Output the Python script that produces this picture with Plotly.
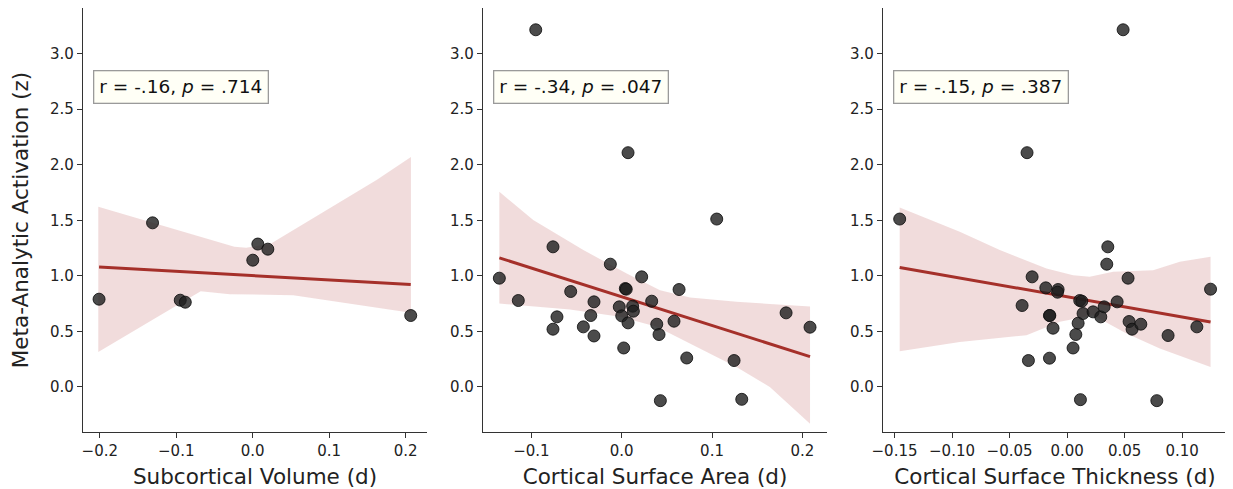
import numpy as np
import plotly.graph_objects as go

# ---------------- data ----------------
y_title = "Meta-Analytic Activation (z)"
x_titles = ["Subcortical Volume (d)", "Cortical Surface Area (d)", "Cortical Surface Thickness (d)"]
stat_labels = ["r = -.16, <i>p</i> = .714", "r = -.34, <i>p</i> = .047", "r = -.15, <i>p</i> = .387"]

sv_x = [-0.201, -0.131, -0.0948, -0.0882, 0.0001, 0.0067, 0.0198, 0.2067]
sv_y = [0.790, 1.477, 0.781, 0.763, 1.141, 1.286, 1.240, 0.643]

sa_x = [-0.0952, 0.0070, 0.1052, -0.1355, -0.1145, -0.0761, -0.0761, -0.0717, -0.0565, -0.0425,
        -0.0343, -0.0307, -0.0307, -0.0126, -0.0027, 0.0000, 0.0022, 0.0040, 0.0050, 0.0070,
        0.0121, 0.0129, 0.0221, 0.0332, 0.0388, 0.0413, 0.0428, 0.0579, 0.0635, 0.0720,
        0.1244, 0.1329, 0.1820, 0.2085]
sa_y = [3.214, 2.108, 1.511, 0.979, 0.778, 1.261, 0.520, 0.631, 0.859, 0.541,
        0.643, 0.766, 0.459, 1.105, 0.721, 0.640, 0.351, 0.886, 0.880, 0.577,
        0.727, 0.682, 0.991, 0.772, 0.565, 0.472, -0.123, 0.592, 0.877, 0.261,
        0.238, -0.111, 0.667, 0.538]

th_x = [0.0487, -0.0348, -0.1455, -0.0304, -0.0391, -0.0336, -0.0185, -0.0153, -0.0150, -0.0153,
        -0.0122, -0.0078, -0.0083, 0.0052, 0.0076, 0.0096, 0.0110, 0.0128, 0.0116, 0.0139,
        0.0226, 0.0293, 0.0322, 0.0345, 0.0354, 0.0435, 0.0530, 0.0539, 0.0565, 0.0641,
        0.0780, 0.0878, 0.1128, 0.1247]
th_y = [3.214, 2.108, 1.511, 0.991, 0.733, 0.238, 0.892, 0.643, 0.643, 0.259,
        0.529, 0.877, 0.853, 0.351, 0.472, 0.574, 0.778, 0.772, -0.114, 0.661,
        0.676, 0.631, 0.721, 1.105, 1.261, 0.766, 0.979, 0.589, 0.520, 0.565,
        -0.123, 0.463, 0.541, 0.880]

# confidence bands
sv_up_x = [-0.202, -0.024, -0.0085, 0.024, 0.162, 0.207]
sv_up_y = [1.622, 1.261, 1.252, 1.292, 1.862, 2.07]
sv_lo_x = [-0.202, -0.068, -0.030, 0.053, 0.153, 0.207]
sv_lo_y = [0.315, 0.862, 0.835, 0.826, 0.721, 0.667]

sa_up_x = [-0.1355, -0.098, -0.0425, 0.0055, 0.0424, 0.0756, 0.127, 0.2085]
sa_up_y = [1.757, 1.502, 1.232, 1.021, 0.871, 0.805, 0.766, 0.725]
sa_lo_x = [-0.1355, -0.0573, -0.0019, 0.0388, 0.083, 0.127, 0.164, 0.2085]
sa_lo_y = [0.751, 0.697, 0.631, 0.541, 0.360, 0.180, 0.0, -0.33]

th_up_x = [-0.1455, -0.0933, -0.0585, -0.0179, 0.0052, 0.0197, 0.04, 0.0748, 0.098, 0.1247]
th_up_y = [1.616, 1.397, 1.232, 1.066, 1.006, 0.991, 1.036, 1.051, 1.126, 1.171]
th_lo_x = [-0.1455, -0.0933, -0.0353, -0.0063, 0.0226, 0.0517, 0.0806, 0.1247]
th_lo_y = [0.322, 0.405, 0.466, 0.586, 0.646, 0.481, 0.346, 0.180]

x_ranges = [[-0.222, 0.228], [-0.1536, 0.2273], [-0.160, 0.139]]
x_dticks = [0.1, 0.1, 0.05]
x_formats = [".1f", ".1f", ".2f"]
y_range = [-0.405, 3.41]
y_ticks = [0.0, 0.5, 1.0, 1.5, 2.0, 2.5, 3.0]

# ---------------- figure ----------------
# the page body adds an 8px offset, so the figure is 8px smaller and shifted
OFF = 8
W, H = 1233 - OFF, 489 - OFF
domains_px = [(83 - OFF, 427 - OFF), (483 - OFF, 827 - OFF), (883 - OFF, 1227 - OFF)]
top_px, bot_px = 8 - OFF, 432 - OFF
y_dom = [1 - bot_px / H, 1 - top_px / H]

line_col = "#a5302a"
band_col = "rgba(180,60,60,0.18)"
font_fam = "DejaVu Sans"

panels = [
    (sv_x, sv_y, sv_up_x, sv_up_y, sv_lo_x, sv_lo_y),
    (sa_x, sa_y, sa_up_x, sa_up_y, sa_lo_x, sa_lo_y),
    (th_x, th_y, th_up_x, th_up_y, th_lo_x, th_lo_y),
]

fig = go.Figure()
for i, (px, py, ux, uy, lx, ly) in enumerate(panels):
    xa = "x" if i == 0 else f"x{i+1}"
    ya = "y" if i == 0 else f"y{i+1}"
    fig.add_trace(go.Scatter(
        x=list(ux) + list(lx)[::-1], y=list(uy) + list(ly)[::-1],
        fill="toself", fillcolor=band_col, line=dict(width=0), mode="lines",
        xaxis=xa, yaxis=ya, showlegend=False, hoverinfo="skip"))
    xs = np.array(px, dtype=float)
    ys = np.array(py, dtype=float)
    slope, icpt = np.polyfit(xs, ys, 1)
    lx_ = np.array([xs.min(), xs.max()])
    fig.add_trace(go.Scatter(
        x=lx_, y=slope * lx_ + icpt, mode="lines",
        line=dict(color=line_col, width=3), xaxis=xa, yaxis=ya, showlegend=False))
    fig.add_trace(go.Scatter(
        x=px, y=py, mode="markers",
        marker=dict(size=12, color="rgba(30,30,30,0.8)",
                    line=dict(color="rgba(15,15,15,0.85)", width=1)),
        xaxis=xa, yaxis=ya, showlegend=False, cliponaxis=False))

layout = dict(
    width=W, height=H, margin=dict(l=0, r=0, t=0, b=0, autoexpand=False),
    paper_bgcolor="white", plot_bgcolor="white",
    font=dict(family=font_fam, color="#222222"),
    annotations=[],
)
for i in range(3):
    xk = "xaxis" if i == 0 else f"xaxis{i+1}"
    yk = "yaxis" if i == 0 else f"yaxis{i+1}"
    yanchor = "y" if i == 0 else f"y{i+1}"
    xanchor = "x" if i == 0 else f"x{i+1}"
    d0, d1 = domains_px[i]
    layout[xk] = dict(
        domain=[d0 / W, d1 / W], anchor=yanchor, range=x_ranges[i], automargin=False,
        dtick=x_dticks[i], tick0=0, tickformat=x_formats[i],
        showgrid=False, zeroline=False, showline=True, linecolor="#333333", linewidth=1.3,
        ticks="outside", ticklen=5, tickwidth=1.2, tickcolor="#333333",
        tickfont=dict(size=15, color="#222222"),
        title=dict(text=x_titles[i], font=dict(size=21.5, color="#222222"), standoff=10),
    )
    layout[yk] = dict(
        domain=y_dom, anchor=xanchor, range=y_range, automargin=False,
        tickvals=y_ticks, tickformat=".1f",
        showgrid=False, zeroline=False, showline=True, linecolor="#333333", linewidth=1.3,
        ticks="outside", ticklen=5, tickwidth=1.2, tickcolor="#333333",
        tickfont=dict(size=15, color="#222222"),
    )
    if i == 0:
        layout[yk]["title"] = dict(text=y_title, font=dict(size=21.5, color="#222222"), standoff=15)
    layout["annotations"].append(dict(
        text=stat_labels[i], xref=f"{xanchor} domain", yref=f"{yanchor} domain",
        x=0.03, y=(432 - 70) / 424, xanchor="left", yanchor="top", showarrow=False,
        font=dict(size=18.5, color="#111111", family=font_fam),
        bgcolor="#fffff6", bordercolor="#9a9a9a", borderwidth=1.3, borderpad=5,
    ))

fig.update_layout(**layout)
fig.write_html("out.html")
